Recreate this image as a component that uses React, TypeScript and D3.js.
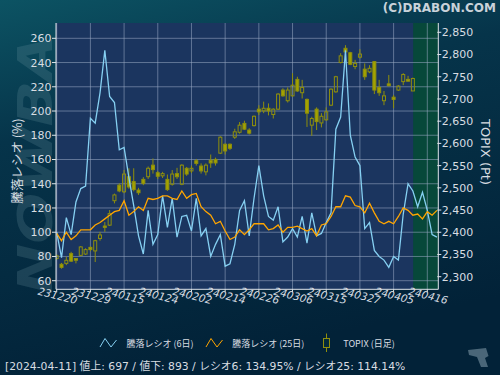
import React from 'react';
import * as d3 from 'd3';

const tickLabels = ['231220', '231229', '240115', '240124', '240202', '240214', '240226', '240306', '240315', '240327', '240405', '240416'];
const tickStep = 7;
const highlightStart = 74;

const leftTicks = [60, 80, 100, 120, 140, 160, 180, 200, 220, 240, 260];
const rightTicks = [2300, 2350, 2400, 2450, 2500, 2550, 2600, 2650, 2700, 2750, 2800, 2850];

const ratio6 = [
  100, 79, 112, 98, 125, 136, 138, 194, 190, 215,
  250, 212, 207, 168, 170, 145, 122, 97, 82, 118,
  90, 98, 130, 104, 128, 96, 113, 114, 101, 128,
  97, 103, 80, 90, 98, 72, 74, 90, 118, 126,
  97, 128, 155, 130, 113, 110, 121, 92, 96, 103,
  96, 113, 91, 116, 97, 99, 108, 116, 185, 195,
  250, 180, 162, 155, 103, 108, 85, 80, 77, 71,
  80, 77, 115, 140, 134, 121, 133, 118, 98, 96,
];

const ratio25 = [
  99, 93, 100, 94, 97, 102, 102, 102, 106, 108,
  111, 114, 117, 118, 126, 114, 117, 121, 118, 128,
  127, 128, 130, 130, 128, 127, 134, 128, 131, 132,
  121, 117, 114, 107, 109, 101, 94, 96, 102, 98,
  102, 107, 107, 107, 102, 103, 106, 100, 104, 104,
  105, 103, 101, 103, 97, 106, 107, 113, 121, 121,
  130, 129, 122, 121, 116, 124, 116, 109, 107, 109,
  107, 113, 120, 118, 114, 115, 111, 117, 114, 118,
];

const topixOpen = [
  2341, 2328, 2330, 2352, 2341, 2348, 2351, 2366, 2358, 2386,
  2414, 2416, 2471, 2506, 2491, 2525, 2514, 2495, 2519, 2525,
  2551, 2534, 2527, 2519, 2508, 2532, 2508, 2544, 2538, 2561,
  2549, 2536, 2562, 2564, 2578, 2598, 2598, 2614, 2625, 2645,
  2630, 2640, 2677, 2673, 2679, 2665, 2677, 2720, 2696, 2707,
  2744, 2714, 2699, 2641, 2677, 2646, 2653, 2686, 2716, 2782,
  2814, 2804, 2773, 2794, 2767, 2761, 2784, 2726, 2696, 2734,
  2704, 2720, 2739, 2744, 2718,
];
const topixHigh = [
  2350, 2331, 2345, 2356, 2342, 2369, 2364, 2368, 2383, 2401,
  2423, 2450, 2487, 2510, 2540, 2544, 2544, 2500, 2524, 2548,
  2566, 2538, 2536, 2530, 2540, 2545, 2553, 2547, 2550, 2565,
  2555, 2555, 2575, 2568, 2616, 2600, 2600, 2633, 2648, 2651,
  2634, 2663, 2686, 2694, 2690, 2679, 2713, 2724, 2726, 2758,
  2750, 2743, 2701, 2660, 2681, 2668, 2681, 2724, 2752, 2803,
  2821, 2806, 2788, 2812, 2780, 2776, 2785, 2743, 2718, 2754,
  2709, 2731, 2758, 2752, 2748,
];
const topixLow = [
  2338, 2318, 2326, 2333, 2330, 2346, 2349, 2357, 2333, 2381,
  2401, 2414, 2465, 2490, 2488, 2498, 2492, 2484, 2506, 2520,
  2532, 2520, 2522, 2493, 2505, 2520, 2506, 2527, 2533, 2550,
  2532, 2528, 2545, 2550, 2576, 2575, 2585, 2610, 2622, 2630,
  2620, 2638, 2664, 2668, 2663, 2656, 2675, 2705, 2692, 2705,
  2716, 2701, 2637, 2617, 2630, 2636, 2651, 2684, 2714, 2780,
  2804, 2776, 2767, 2791, 2743, 2758, 2711, 2707, 2686, 2728,
  2679, 2718, 2731, 2739, 2718,
];
const topixClose = [
  2347, 2321, 2337, 2335, 2337, 2367, 2361, 2361, 2381, 2394,
  2411, 2442, 2484, 2493, 2531, 2502, 2496, 2489, 2510, 2544,
  2541, 2526, 2532, 2496, 2531, 2525, 2551, 2531, 2544, 2555,
  2538, 2551, 2556, 2556, 2614, 2583, 2589, 2626, 2641, 2632,
  2623, 2661, 2671, 2679, 2673, 2677, 2711, 2707, 2720, 2731,
  2718, 2726, 2668, 2656, 2649, 2661, 2671, 2722, 2750, 2797,
  2806, 2778, 2780, 2801, 2750, 2769, 2720, 2714, 2707, 2730,
  2699, 2729, 2755, 2740, 2746,
];

const statusText = '[2024-04-11]  値上: 697 / 値下: 893 / レシオ6: 134.95% / レシオ25: 114.14%';

export default function App() {
  const W = 500;
  const H = 375;
  const plot = { left: 56, right: 438.3, top: 23, bottom: 289.3 };
  const x = d3.scaleLinear().domain([0, 77]).range([56.7, 427.3]);
  const yL = d3.scaleLinear().domain([60, 260]).range([280.7, 38.3]);
  const yR = d3.scaleLinear().domain([2300, 2850]).range([276.7, 32.3]);

  const lineL = d3.line<number>().x((_, i) => x(i)).y((d) => yL(d));
  const font = '"DejaVu Sans", sans-serif';
  const candleStroke = '#8f8f0c';
  const candleFill = '#a3a300';
  const blue = '#86d0f2';
  const orange = '#ffa500';
  const textColor = '#d8dde2';

  const candles = topixOpen.map((o, i) => ({ o, h: topixHigh[i], l: topixLow[i], c: topixClose[i], i }));

  return (
    <svg width={W} height={H} style={{ position: 'absolute', left: 0, top: 0 }} fontFamily={font}>
      <defs>
        <linearGradient id="bg" x1="0" y1="0" x2="0.3" y2="1">
          <stop offset="0" stopColor="#0c5363" />
          <stop offset="0.35" stopColor="#06344a" />
          <stop offset="1" stopColor="#022238" />
        </linearGradient>
        <clipPath id="plotClip">
          <rect x={plot.left} y={plot.top} width={plot.right - plot.left} height={plot.bottom - plot.top} />
        </clipPath>
      </defs>
      <rect x={0} y={0} width={W} height={H} fill="url(#bg)" />

      {/* watermark */}
      <text
        transform="translate(52,294) rotate(-90) scale(1.25,1)"
        fontSize={48}
        fontWeight="bold"
        fontStyle="italic"
        fill="#7fa6b0"
        fillOpacity={0.2}
        fontFamily={font}
      >
        NOWBA
      </text>

      <text x={496} y={12} textAnchor="end" fontSize={12} fontWeight="bold" fill="#c9d2da">
        (C)DRABON.COM
      </text>

      {/* plot background */}
      <rect x={plot.left} y={plot.top} width={plot.right - plot.left} height={plot.bottom - plot.top} fill="#1b355f" />
      <rect
        x={x(highlightStart) + 0.3}
        y={plot.top}
        width={plot.right - x(highlightStart) - 0.3}
        height={plot.bottom - plot.top}
        fill="#07483a"
      />

      {/* grid */}
      {leftTicks.map((t) => (
        <line key={'hg' + t} x1={plot.left} x2={plot.right} y1={yL(t)} y2={yL(t)} stroke="#9aa9c4" strokeOpacity={0.55} strokeWidth={1} />
      ))}
      {tickLabels.map((_, k) => (
        <line key={'vg' + k} x1={x(k * tickStep)} x2={x(k * tickStep)} y1={plot.top} y2={plot.bottom} stroke="#9aa9c4" strokeOpacity={0.55} strokeWidth={1} />
      ))}

      <g clipPath="url(#plotClip)">
        {/* candles */}
        {candles.map((d) => {
          const cx = x(d.i);
          const up = d.c >= d.o;
          const top = yR(Math.max(d.o, d.c));
          const bot = yR(Math.min(d.o, d.c));
          return (
            <g key={'c' + d.i}>
              <line x1={cx} x2={cx} y1={yR(d.h)} y2={top} stroke={candleStroke} strokeWidth={1} />
              <line x1={cx} x2={cx} y1={bot} y2={yR(d.l)} stroke={candleStroke} strokeWidth={1} />
              <rect
                x={cx - 1.5}
                y={top}
                width={3}
                height={Math.max(1, bot - top)}
                fill={up ? 'none' : candleFill}
                stroke={candleStroke}
                strokeWidth={1}
              />
            </g>
          );
        })}
        <path d={lineL(ratio6) || ''} fill="none" stroke={blue} strokeWidth={1.3} />
        <path d={lineL(ratio25) || ''} fill="none" stroke={orange} strokeWidth={1.3} />
      </g>

      {/* axes */}
      <line x1={plot.left} x2={plot.left} y1={plot.top} y2={plot.bottom} stroke="#dfe4ea" strokeWidth={1} />
      <line x1={plot.right} x2={plot.right} y1={plot.top} y2={plot.bottom} stroke="#dfe4ea" strokeWidth={1} />
      <line x1={plot.left} x2={plot.right} y1={plot.bottom} y2={plot.bottom} stroke="#dfe4ea" strokeWidth={1} />

      {leftTicks.map((t) => (
        <g key={'lt' + t}>
          <line x1={plot.left - 4} x2={plot.left} y1={yL(t)} y2={yL(t)} stroke="#dfe4ea" />
          <text x={plot.left - 4.5} y={yL(t)} dy="0.36em" textAnchor="end" fontSize={11} fill={textColor}>
            {t}
          </text>
        </g>
      ))}
      {rightTicks.map((t) => (
        <g key={'rt' + t}>
          <line x1={plot.right - 1} x2={plot.right + 3} y1={yR(t)} y2={yR(t)} stroke="#dfe4ea" />
          <text x={plot.right + 3.5} y={yR(t)} dy="0.36em" textAnchor="start" fontSize={11} fill={textColor}>
            {d3.format(',')(t)}
          </text>
        </g>
      ))}
      {tickLabels.map((lab, k) => {
        const tx = x(k * tickStep);
        return (
          <g key={'bt' + k}>
            <line x1={tx} x2={tx} y1={plot.bottom} y2={plot.bottom + 3} stroke="#dfe4ea" />
            <text
              transform={`translate(${tx},${plot.bottom + 10}) rotate(14)`}
              textAnchor="middle"
              fontSize={10.5}
              fontStyle="italic"
              fill={textColor}
            >
              {lab}
            </text>
          </g>
        );
      })}

      {/* axis titles */}
      <text transform="translate(22,161) rotate(-90)" textAnchor="middle" fontSize={12.5} fill={textColor} fontFamily='"Noto Sans CJK JP", "DejaVu Sans", sans-serif'>
        騰落レシオ (%)
      </text>
      <text transform="translate(481,152) rotate(90)" textAnchor="middle" fontSize={13} fill={textColor}>
        TOPIX (Pt)
      </text>

      {/* legend */}
      <g fontFamily='"Noto Sans CJK JP", "DejaVu Sans", sans-serif' fontSize={9} fill={textColor}>
        <path d="M100,347 L105,338.5 L111,347 L116.5,340" fill="none" stroke={blue} strokeWidth={1} />
        <text x={126.5} y={344} dy="0.35em">騰落レシオ (6日)</text>
        <path d="M206,347 L211,338.5 L217,347 L222.5,340" fill="none" stroke={orange} strokeWidth={1} />
        <text x={232.3} y={344} dy="0.35em">騰落レシオ (25日)</text>
        <line x1={326.5} x2={326.5} y1={333.5} y2={352} stroke={candleStroke} />
        <rect x={323.5} y={338.5} width={6} height={9} fill="#022a3c" stroke={candleStroke} />
        <text x={343.3} y={344} dy="0.35em">TOPIX (日足)</text>
      </g>

      {/* icon */}
      <path d="M468,350 L486,348 L488.5,356 L485,358 L488,367 L481,367 L477,357 L469,355 Z" fill="#5d7888" fillOpacity={0.8} />

      <text x={5} y={370} fontSize={10.8} fill={textColor} fontFamily='"DejaVu Sans", "Noto Sans CJK JP", sans-serif'>
        {statusText}
      </text>
    </svg>
  );
}
